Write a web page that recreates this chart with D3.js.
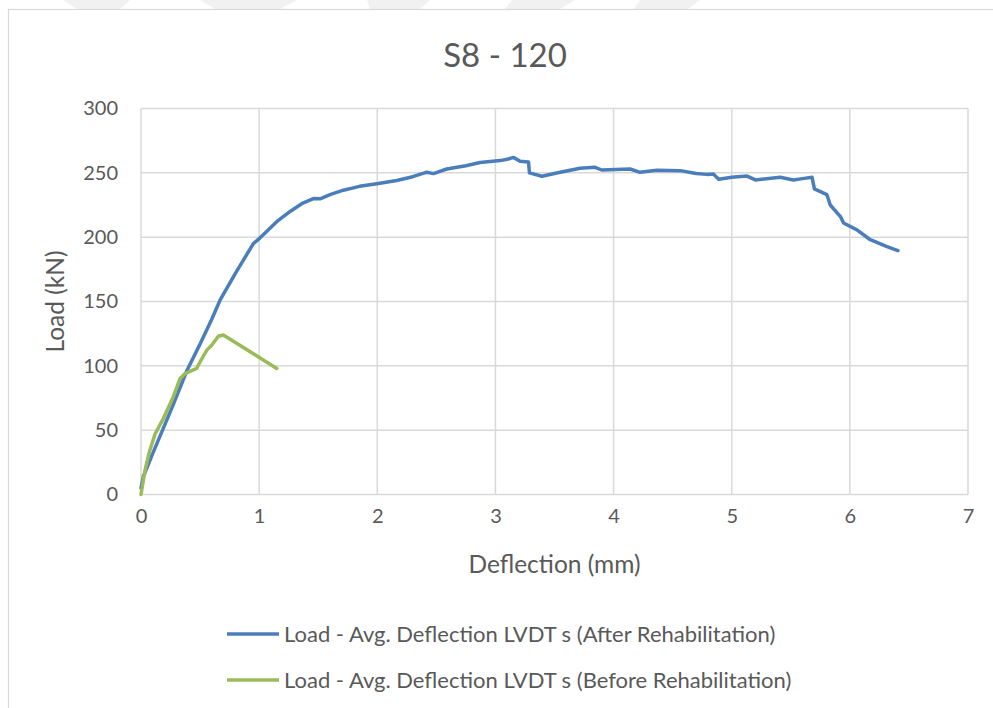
<!DOCTYPE html>
<html>
<head>
<meta charset="utf-8">
<script src="https://cdn.jsdelivr.net/npm/d3@7"></script>
<style>
  body { margin: 0; background: #fff; }
  svg { display: block; font-family: Lato, "Open Sans", sans-serif; }
</style>
</head>
<body>
<svg id="chart"></svg>
<script>
const width = 993;
const height = 708;

const title = 'S8 - 120';
const xLabel = 'Deflection (mm)';
const yLabel = 'Load (kN)';
const xTicks = [0, 1, 2, 3, 4, 5, 6, 7];
const yTicks = [0, 50, 100, 150, 200, 250, 300];
const seriesNames = [
  'Load - Avg. Deflection LVDT s (After Rehabilitation)',
  'Load - Avg. Deflection LVDT s (Before Rehabilitation)'
];

// after rehabilitation (blue)
const afterDefl = [0, 0.02, 0.104, 0.274, 0.387, 0.5, 0.598, 0.669, 0.8, 0.951, 1.008, 1.149, 1.262, 1.36, 1.459,
  1.516, 1.6, 1.713, 1.85, 1.996, 2.165, 2.3, 2.42, 2.475, 2.588, 2.75, 2.87, 3.04, 3.1, 3.152, 3.209, 3.28,
  3.288, 3.393, 3.548, 3.717, 3.844, 3.9, 4.14, 4.225, 4.367, 4.564, 4.7, 4.79, 4.846, 4.89, 5.0, 5.13, 5.2,
  5.41, 5.523, 5.6, 5.68, 5.70, 5.806, 5.834, 5.92, 5.947, 6.06, 6.173, 6.314, 6.407];
const afterLoad = [5, 14, 33, 70, 96, 117, 136, 151, 172, 195, 199.5, 212, 220, 226, 230,
  229.8, 233, 236.5, 239.5, 241.5, 244, 247, 250.5, 249.4, 253, 255.5, 258, 259.5, 260.5, 262, 259, 258.5,
  250, 247.3, 250.4, 253.5, 254.3, 252.2, 253, 250.4, 252, 251.7, 249.5, 248.8, 249, 245, 246.5, 247.5, 244.5,
  246.5, 244.5, 245.5, 246.5, 237.5, 233, 225, 216, 211, 205.7, 198, 192.7, 189.6];

// before rehabilitation (green)
const beforeDefl = [0, 0.034, 0.07, 0.119, 0.189, 0.274, 0.33, 0.373, 0.471, 0.5, 0.556, 0.598, 0.655, 0.697, 1.149];
const beforeLoad = [0, 18.7, 33, 47, 59, 76, 90, 94, 98, 103, 112, 116, 123, 124, 98];

const colors = ['#4a7ebb', '#9bbb59'];
const textColor = '#595959';
const gridColor = '#d9d9d9';

const plot = {left: 141, right: 968, top: 108.5, bottom: 494.5};

const svg = d3.select('#chart').attr('width', width).attr('height', height);

// faint watermark shapes at the top edge
const marks = [
  [[63, 0], [130, 0], [120, 9], [77, 9]],
  [[200, 0], [297, 0], [280, 9], [215, 9]],
  [[367, 0], [430, 0], [420, 9], [370, 9]],
  [[512, 0], [575, 0], [560, 9], [505, 9]],
  [[640, 0], [700, 0], [688, 9], [634, 9]]
];
svg.selectAll('.wm').data(marks).enter().append('polygon')
  .attr('points', d => d.map(p => p.join(',')).join(' '))
  .attr('fill', '#f1f1f1');

// chart border
svg.append('rect')
  .attr('x', 8.5).attr('y', 9.5)
  .attr('width', 1000).attr('height', 720)
  .attr('fill', '#fff')
  .attr('stroke', gridColor).attr('stroke-width', 1.2);

const x = d3.scaleLinear().domain([0, 7]).range([plot.left, plot.right]);
const y = d3.scaleLinear().domain([0, 300]).range([plot.bottom, plot.top]);

// gridlines
svg.append('g').selectAll('line').data(xTicks).enter().append('line')
  .attr('x1', d => x(d)).attr('x2', d => x(d))
  .attr('y1', plot.top).attr('y2', plot.bottom)
  .attr('stroke', gridColor).attr('stroke-width', 1.5);

svg.append('g').selectAll('line').data(yTicks).enter().append('line')
  .attr('x1', plot.left).attr('x2', plot.right)
  .attr('y1', d => y(d)).attr('y2', d => y(d))
  .attr('stroke', gridColor).attr('stroke-width', 1.5);

// axes (labels only)
const xAxis = svg.append('g')
  .attr('transform', `translate(0, ${plot.bottom})`)
  .call(d3.axisBottom(x).tickValues(xTicks).tickSize(0).tickPadding(14).tickFormat(d3.format('d')));
const yAxis = svg.append('g')
  .attr('transform', `translate(${plot.left}, 0)`)
  .call(d3.axisLeft(y).tickValues(yTicks).tickSize(0).tickPadding(23).tickFormat(d3.format('d')));

[xAxis, yAxis].forEach(a => {
  a.select('.domain').remove();
  a.selectAll('text')
    .attr('fill', textColor)
    .style('font-family', 'Lato, "Open Sans", sans-serif')
    .style('font-size', '20px');
});

// series lines
const line = d3.line().x(d => x(d[0])).y(d => y(d[1]));
const series = [
  d3.zip(afterDefl, afterLoad),
  d3.zip(beforeDefl, beforeLoad)
];

svg.append('g').selectAll('path').data(series).enter().append('path')
  .attr('d', line)
  .attr('fill', 'none')
  .attr('stroke', (d, i) => colors[i])
  .attr('stroke-width', 3.5)
  .attr('stroke-linejoin', 'round')
  .attr('stroke-linecap', 'round');

// titles
svg.append('text')
  .attr('x', 505).attr('y', 67)
  .attr('text-anchor', 'middle')
  .attr('fill', textColor)
  .style('font-size', '33px')
  .text(title);

svg.append('text')
  .attr('x', (plot.left + plot.right) / 2).attr('y', 573)
  .attr('text-anchor', 'middle')
  .attr('fill', textColor)
  .style('font-size', '24.5px')
  .text(xLabel);

svg.append('text')
  .attr('transform', `translate(64, ${(plot.top + plot.bottom) / 2}) rotate(-90)`)
  .attr('text-anchor', 'middle')
  .attr('fill', textColor)
  .style('font-size', '24.5px')
  .text(yLabel);

// legend
const legend = svg.append('g').selectAll('g').data(seriesNames).enter().append('g')
  .attr('transform', (d, i) => `translate(227, ${634 + i * 46})`);

legend.append('line')
  .attr('x1', 0).attr('x2', 52)
  .attr('stroke', (d, i) => colors[i])
  .attr('stroke-width', 3.5);

legend.append('text')
  .attr('x', 57).attr('dy', '0.35em')
  .attr('fill', textColor)
  .style('font-size', '22px')
  .text(d => d);
</script>
</body>
</html>
